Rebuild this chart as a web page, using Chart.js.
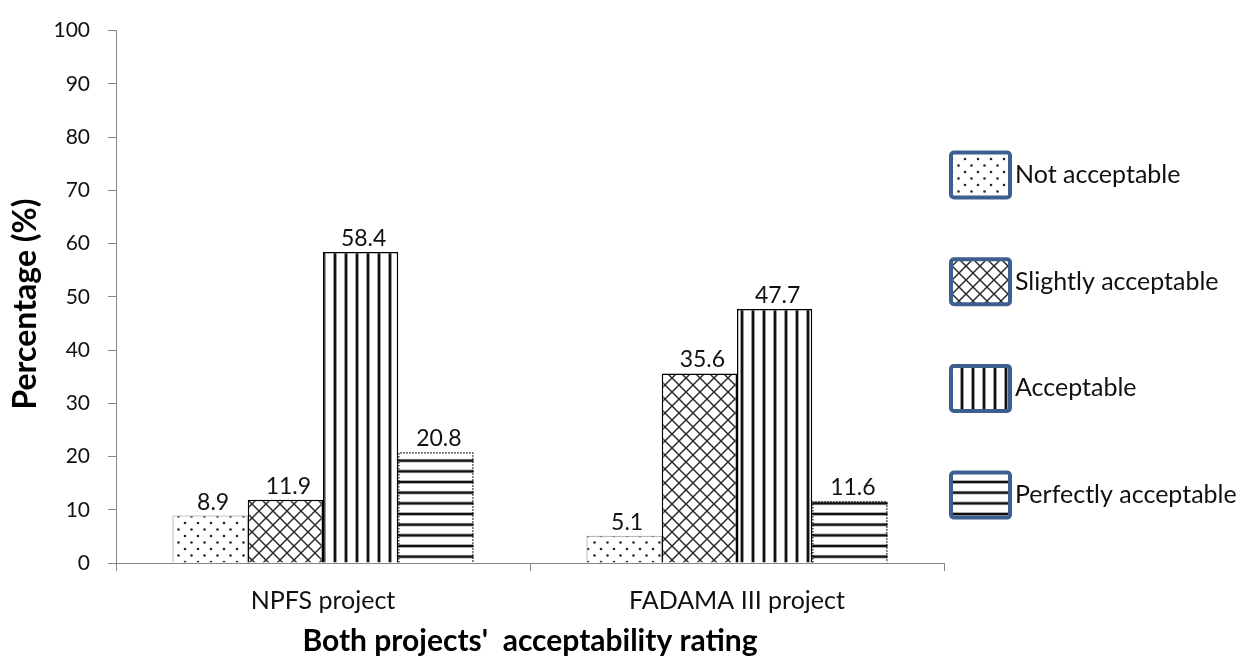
<!DOCTYPE html>
<html><head><meta charset="utf-8">
<script src="https://cdn.jsdelivr.net/npm/chart.js@4.4.1/dist/chart.umd.min.js"></script>
<style>html,body{margin:0;padding:0;background:#fff}canvas{display:block}</style>
</head><body>
<canvas id="c" width="1236" height="656"></canvas>
<script>
// ---- data ----
const categories = ['NPFS project', 'FADAMA III project'];
const seriesNames = ['Not acceptable', 'Slightly acceptable', 'Acceptable', 'Perfectly acceptable'];
const notAcceptable = [8.9, 5.1];
const slightlyAcceptable = [11.9, 35.6];
const acceptable = [58.4, 47.7];
const perfectlyAcceptable = [20.8, 11.6];
const yTicks = [0, 10, 20, 30, 40, 50, 60, 70, 80, 90, 100];
const xTitle = "Both projects'  acceptability rating";
const yTitle = 'Percentage (%)';

// ---- patterns ----
function makePattern(kind) {
  const c = document.createElement('canvas');
  let w, h;
  if (kind === 'dots') { w = 13; h = 13; }
  else if (kind === 'cross') { w = 14; h = 14; }
  else if (kind === 'vstripes') { w = 11; h = 4; }
  else { w = 4; h = 32; }
  c.width = w; c.height = h;
  const g = c.getContext('2d');
  g.fillStyle = '#fff'; g.fillRect(0, 0, w, h);
  if (kind === 'dots') {
    g.fillStyle = '#262626';
    [[3, 3], [9.5, 9.5]].forEach(([x, y]) => { g.beginPath(); g.arc(x, y, 1.3, 0, Math.PI * 2); g.fill(); });
  } else if (kind === 'cross') {
    g.strokeStyle = '#2a2a2a'; g.lineWidth = 1.5;
    for (let k = -1; k <= 2; k++) {
      g.beginPath(); g.moveTo(-w, -w + k * w); g.lineTo(2 * w, 2 * w + k * w); g.stroke();
      g.beginPath(); g.moveTo(-w, 2 * w + k * w - w); g.lineTo(2 * w, -w + k * w - w); g.stroke();
    }
  } else if (kind === 'vstripes') {
    g.fillStyle = '#9a9a9a'; g.fillRect(3, 0, 4, h);
    g.fillStyle = '#111'; g.fillRect(4, 0, 2, h);
  } else {
    for (let i = 0; i < 3; i++) {
      const y = 1 + i * 32 / 3;
      g.fillStyle = '#9a9a9a'; g.fillRect(0, y - 0.8, w, 3.6);
      g.fillStyle = '#111'; g.fillRect(0, y, w, 2);
    }
  }
  return g.createPattern(c, 'repeat');
}
const patterns = [makePattern('dots'), makePattern('cross'), makePattern('vstripes'), makePattern('hstripes')];
const seriesValues = [notAcceptable, slightlyAcceptable, acceptable, perfectlyAcceptable];
const borderColors = ['#808080', '#000', '#000', '#000'];
const borderWidths = [1, 1.5, 1.5, 0];

const FONT = 'Lato';

const extras = {
  id: 'extras',
  afterDatasetsDraw(chart) {
    const ctx = chart.ctx;
    ctx.save();
    // dotted border for last series
    const meta3 = chart.getDatasetMeta(3);
    meta3.data.forEach(bar => {
      const left = bar.x - bar.width / 2, right = bar.x + bar.width / 2;
      ctx.strokeStyle = '#000'; ctx.lineWidth = 1.2; ctx.setLineDash([1.5, 1.5]);
      ctx.beginPath();
      ctx.moveTo(left + 0.6, bar.base); ctx.lineTo(left + 0.6, bar.y + 0.6);
      ctx.lineTo(right - 0.6, bar.y + 0.6); ctx.lineTo(right - 0.6, bar.base);
      ctx.stroke();
    });
    ctx.setLineDash([]);
    // value labels
    ctx.font = '23px ' + FONT; ctx.fillStyle = '#111'; ctx.textAlign = 'center'; ctx.textBaseline = 'alphabetic';
    chart.data.datasets.forEach((ds, i) => {
      chart.getDatasetMeta(i).data.forEach((bar, j) => {
        ctx.fillText(ds.data[j].toFixed(1), bar.x + 3, bar.y - 6);
      });
    });
    ctx.restore();
  },
  afterDraw(chart) {
    const ctx = chart.ctx;
    ctx.save();
    // y axis title
    ctx.translate(26, 304);
    ctx.rotate(-Math.PI / 2);
    ctx.font = 'bold 32px ' + FONT; ctx.fillStyle = '#000'; ctx.textAlign = 'center'; ctx.textBaseline = 'middle';
    ctx.fillText(yTitle, 0, 0);
    ctx.restore();
    ctx.save();
    // legend
    const x0 = 949, bw = 63, bh = 49, startY = 175, step = 106.7;
    chart.data.datasets.forEach((ds, i) => {
      const cy = startY + i * step;
      const top = cy - bh / 2;
      ctx.fillStyle = ds.backgroundColor;
      ctx.fillRect(x0 + 2, top + 2, bw - 4, bh - 4);
      ctx.strokeStyle = '#3d5f8f'; ctx.lineWidth = 4;
      ctx.beginPath();
      if (ctx.roundRect) ctx.roundRect(x0 + 2, top + 2, bw - 4, bh - 4, 3); else ctx.rect(x0 + 2, top + 2, bw - 4, bh - 4);
      ctx.stroke();
      ctx.fillStyle = '#111'; ctx.font = '25px ' + FONT; ctx.textAlign = 'left'; ctx.textBaseline = 'middle';
      ctx.fillText(ds.label, x0 + bw + 3, cy);
    });
    ctx.restore();
  }
};

new Chart(document.getElementById('c'), {
  type: 'bar',
  data: {
    labels: categories,
    datasets: seriesNames.map((name, i) => ({
      label: name,
      data: seriesValues[i],
      backgroundColor: patterns[i],
      borderColor: borderColors[i],
      borderWidth: borderWidths[i],
      categoryPercentage: 0.727,
      barPercentage: 1.0
    }))
  },
  options: {
    responsive: false,
    animation: false,
    devicePixelRatio: 1,
    layout: { padding: { left: 0, top: 28, right: 292, bottom: 0 } },
    plugins: { legend: { display: false }, tooltip: { enabled: false } },
    scales: {
      x: {
        grid: { display: true, drawOnChartArea: false, drawTicks: true, tickLength: 8, color: '#868686', offset: true },
        border: { color: '#868686', width: 1 },
        ticks: { font: { family: FONT, size: 25 }, color: '#111', padding: 15, maxRotation: 0 },
        title: { display: true, text: xTitle, color: '#000', font: { family: FONT, size: 30, weight: 'bold', lineHeight: 1 }, padding: { top: 0, bottom: 0 } },
        afterFit: s => { s.height = 93; }
      },
      y: {
        min: 0, max: 100,
        afterBuildTicks: s => { s.ticks = yTicks.map(v => ({ value: v })); },
        ticks: { font: { family: FONT, size: 21 }, color: '#111', padding: 18 },
        grid: { display: true, drawOnChartArea: false, drawTicks: true, tickLength: 8, color: '#868686' },
        border: { color: '#868686', width: 1 },
        title: { display: false },
        afterFit: s => { s.width = 116; }
      }
    }
  },
  plugins: [extras]
});
</script>
</body></html>
